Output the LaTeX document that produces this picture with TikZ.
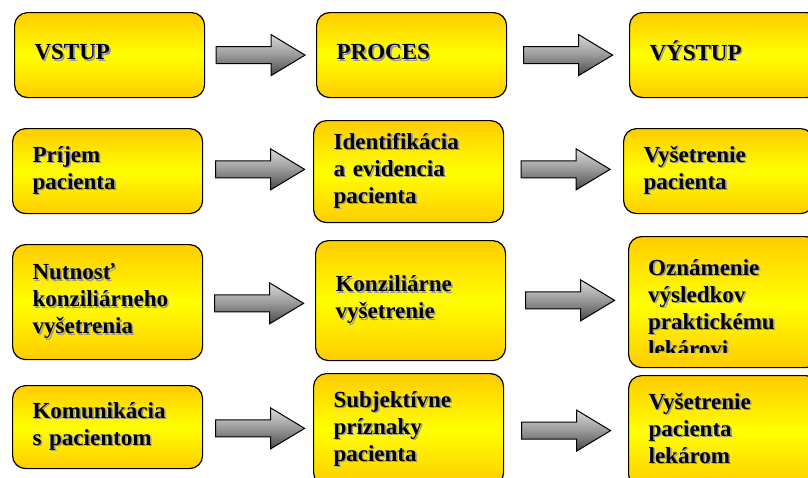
\documentclass[tikz,border=0pt]{standalone}
\usepackage{xcolor}
\usepackage{fontspec}
\setmainfont{Liberation Serif}
\usetikzlibrary{calc}

\definecolor{boxgold}{RGB}{255,204,0}
\definecolor{boxyellow}{RGB}{255,255,0}

% text s tienom
\newcommand\shadowed[1]{\leavevmode\rlap{\kern1.6pt\raisebox{-1.6pt}{\color{black!40}#1}}#1}
\newcommand\boxtext[1]{\shadowed{\begin{tabular}{@{}l@{}}#1\end{tabular}}}

\tikzset{
  pics/flowarrow/.style={code={
    \shadedraw[draw=black,line width=1pt,top color=black!15,bottom color=black!72,middle color=black!40]
      (-44.5,-8.5) -- (10.5,-8.5) -- (10.5,-20.5) -- (44.5,0) -- (10.5,20.5) -- (10.5,8.5) -- (-44.5,8.5) -- cycle;
  }}
}

\begin{document}
\begin{tikzpicture}[x=1pt,y=-1pt,
    boxfont/.style={font=\fontsize{23}{27}\selectfont\bfseries},
    procbox/.style={boxfont,draw=black,line width=1.2pt,rounded corners=13pt,
      top color=boxgold,bottom color=boxgold,middle color=boxyellow,
      anchor=north west,text width=150pt,inner xsep=20pt,inner ysep=0pt,align=left}]
    \useasboundingbox (0,0) rectangle (808,477);
    \fill[white] (0,0) rectangle (808,477);
    \clip (0,0) rectangle (808,477);

    % prvy riadok
    \node[procbox,minimum height=85pt] (vstup) at (14,12) {\boxtext{VSTUP}};
    \node[procbox,minimum height=85pt] (proces) at (316,12) {\boxtext{PROCES}};
    \node[procbox,minimum height=85pt] (vystup) at (629,12) {\boxtext{VÝSTUP}};

    % druhy riadok
    \node[procbox,minimum height=85pt] (prijem) at (12,128) {\boxtext{Príjem\\pacienta}};
    \node[procbox,minimum height=102pt] (ident) at (313,120) {\boxtext{Identifikácia\\a evidencia\\pacienta}};
    \node[procbox,minimum height=85pt] (vysetr) at (623,128) {\boxtext{Vyšetrenie\\pacienta}};

    % treti riadok
    \node[procbox,minimum height=115pt] (nutnost) at (12,244) {\boxtext{Nutnosť\\konziliárneho\\vyšetrenia}};
    \node[procbox,minimum height=120pt] (konz) at (315,240) {\boxtext{Konziliárne\\vyšetrenie}};
    \node[procbox,minimum height=131pt] (ozn) at (628,236) {};
    \begin{scope}
        \clip (ozn.north west) rectangle ($(ozn.south east)+(0,-16)$);
        \node[boxfont,anchor=north west,inner sep=0pt] (ozntext) at ($(ozn.north west)+(20,20)$)
            {\boxtext{Oznámenie\\výsledkov\\praktickému\\lekárovi}};
    \end{scope}

    % stvrty riadok
    \node[procbox,minimum height=83pt] (komun) at (12,385) {\boxtext{Komunikácia\\s pacientom}};
    \node[procbox,minimum height=112pt] (subj) at (313,373) {\boxtext{Subjektívne\\príznaky\\pacienta}};
    \node[procbox,minimum height=112pt] (lekar) at (628,375) {\boxtext{Vyšetrenie\\pacienta\\lekárom}};

    % sipky
    \pic at ($(vstup.east)!0.5!(proces.west)$) {flowarrow};
    \pic at ($(proces.east)!0.5!(vystup.west)$) {flowarrow};
    \pic at ($(prijem.east)!0.5!(ident.west)+(2,-2)$) {flowarrow};
    \pic at ($(ident.east)!0.5!(vysetr.west)+(2,-2)$) {flowarrow};
    \pic at ($(nutnost.east)!0.5!(konz.west)+(0,2)$) {flowarrow};
    \pic at ($(konz.east)!0.5!(ozn.west)+(3,-1)$) {flowarrow};
    \pic at ($(komun.east)!0.5!(subj.west)+(2,0)$) {flowarrow};
    \pic at ($(subj.east)!0.5!(lekar.west)$) {flowarrow};
\end{tikzpicture}
\end{document}
